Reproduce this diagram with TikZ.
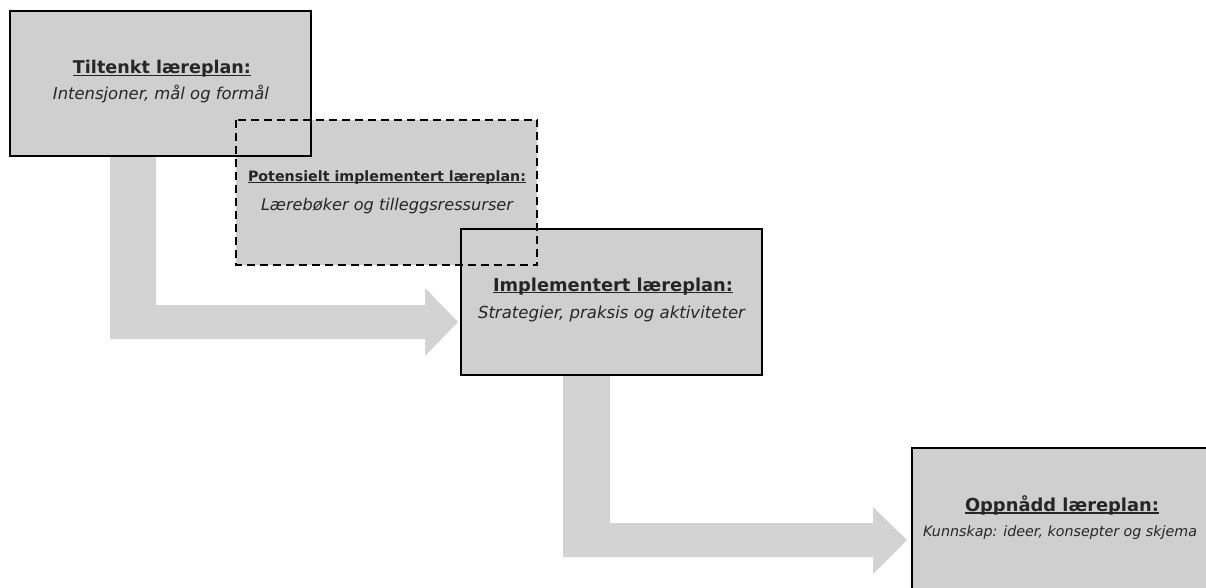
\documentclass[tikz,border=0pt]{standalone}
\usepackage{fontspec}
\setmainfont{DejaVu Sans}
\usepackage{graphicx}
\definecolor{boxgray}{RGB}{207,207,207}
\definecolor{arrowgray}{RGB}{211,211,211}
\newcommand\myul[1]{\setbox0\hbox{#1}\rlap{\rule[-0.14em]{\wd0}{0.085em}}\box0}
\newcommand\ttl[2]{\resizebox{#1pt}{!}{\bfseries\myul{#2}}}
\newcommand\sbt[2]{\resizebox{#1pt}{!}{\itshape #2}}
\tikzset{
  x=1pt, y=-1pt,
  boxfill/.style={fill=boxgray, draw=none, inner sep=0pt, anchor=north west, minimum width=301pt, minimum height=145pt},
  solidborder/.style={draw=black, line width=2pt},
  dashborder/.style={draw=black, line width=2pt, dash pattern=on 8pt off 5pt},
  blockarrow/.style={fill=arrowgray, draw=none},
  txt/.style={inner sep=0pt, anchor=base, text=black!85}
}
\begin{document}
\begin{tikzpicture}
\useasboundingbox (0,0) rectangle (1206,588);
\clip (0,0) rectangle (1206,588);
% block arrows
\fill[blockarrow] (110,156) -- (156,156) -- (156,305) -- (425,305) -- (425,288) -- (458,322) -- (425,356) -- (425,339) -- (110,339) -- cycle;
\fill[blockarrow] (563,375) -- (610,375) -- (610,523) -- (873,523) -- (873,507) -- (907,540) -- (873,574) -- (873,557) -- (563,557) -- cycle;
% box fills
\node[boxfill, minimum width=301pt, minimum height=145pt] (b1) at (10,11) {};
\node[boxfill, minimum width=301pt, minimum height=145pt] (b2) at (236,120) {};
\node[boxfill, minimum width=301pt, minimum height=146pt] (b3) at (461,229) {};
\node[boxfill, minimum width=301pt, minimum height=146pt] (b4) at (912,448) {};
% borders
\draw[solidborder] (b1.north west) rectangle (b1.south east);
\draw[dashborder] (b2.north west) rectangle (b2.south east);
\draw[solidborder] (b3.north west) rectangle (b3.south east);
\draw[solidborder] (b4.north west) rectangle (b4.south east);
% texts
\node[txt] (t1) at (162,74) {\ttl{178}{Tiltenkt læreplan:}};
\node[txt] (s1) at (161,100) {\sbt{216}{Intensjoner, mål og formål}};
\node[txt] (t2) at (387,181) {\ttl{278}{Potensielt implementert læreplan:}};
\node[txt] (s2) at (387,210) {\sbt{252}{Lærebøker og tilleggsressurser}};
\node[txt] (t3) at (613,291) {\ttl{240}{Implementert læreplan:}};
\node[txt] (s3) at (611.5,318.5) {\sbt{267}{Strategier, praksis og aktiviteter}};
\node[txt] (t4) at (1062,511) {\ttl{194}{Oppnådd læreplan:}};
\node[txt] (s4) at (1060,536) {\sbt{274}{Kunnskap: ideer, konsepter og skjema}};
\end{tikzpicture}
\end{document}
